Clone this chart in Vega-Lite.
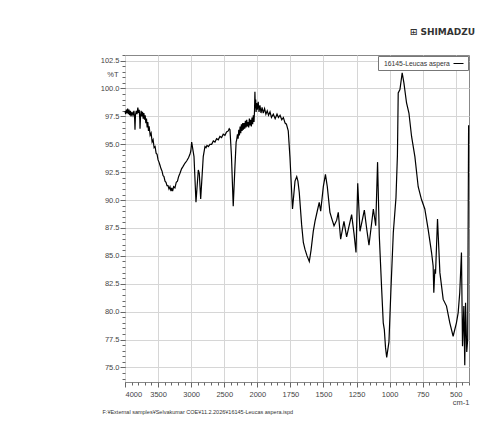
{
  "$schema": "https://vega.github.io/schema/vega-lite/v6.json",
  "autosize": "none",
  "width": 344,
  "height": 327,
  "padding": {"left": 125, "top": 55, "right": 12, "bottom": 41},
  "background": "white",
  "title": {"text": "⊞ SHIMADZU", "anchor": "end", "orient": "top", "offset": 18, "dx": 4, "fontSize": 9, "font": "DejaVu Sans", "fontWeight": "bold", "color": "#333"},
  "config": {
    "view": {"stroke": "#888", "strokeWidth": 1},
    "axis": {"labelFont": "Liberation Sans", "titleFont": "Liberation Sans", "labelColor": "#444", "titleColor": "#444", "domainColor": "#888", "tickColor": "#666", "gridColor": "#d6d6d6", "labelFontSize": 7.5, "titleFontSize": 7.5, "titleFontWeight": "normal"}
  },
  "data": {"values": [
    {"wn": 4000, "t": 98.0}, {"wn": 3990, "t": 97.7}, {"wn": 3980, "t": 98.1}, {"wn": 3970, "t": 97.8}, {"wn": 3960, "t": 98.2},
    {"wn": 3950, "t": 97.7}, {"wn": 3940, "t": 98.1}, {"wn": 3930, "t": 97.6}, {"wn": 3920, "t": 98.0}, {"wn": 3909, "t": 97.5},
    {"wn": 3895, "t": 97.9}, {"wn": 3880, "t": 97.6}, {"wn": 3865, "t": 98.0}, {"wn": 3855, "t": 97.4}, {"wn": 3849, "t": 96.3},
    {"wn": 3842, "t": 97.6}, {"wn": 3830, "t": 98.0}, {"wn": 3818, "t": 97.7}, {"wn": 3806, "t": 98.3}, {"wn": 3795, "t": 97.8},
    {"wn": 3785, "t": 98.1}, {"wn": 3776, "t": 97.2}, {"wn": 3773, "t": 96.4}, {"wn": 3765, "t": 97.5}, {"wn": 3756, "t": 98.0},
    {"wn": 3745, "t": 97.5}, {"wn": 3735, "t": 97.9}, {"wn": 3725, "t": 97.3}, {"wn": 3715, "t": 97.8}, {"wn": 3705, "t": 97.2},
    {"wn": 3695, "t": 97.6}, {"wn": 3685, "t": 96.9}, {"wn": 3675, "t": 97.3}, {"wn": 3665, "t": 96.5}, {"wn": 3655, "t": 97.0},
    {"wn": 3645, "t": 96.2}, {"wn": 3635, "t": 96.6}, {"wn": 3620, "t": 95.8}, {"wn": 3605, "t": 96.0}, {"wn": 3590, "t": 95.2},
    {"wn": 3575, "t": 95.4}, {"wn": 3560, "t": 94.7}, {"wn": 3545, "t": 94.8}, {"wn": 3530, "t": 94.2}, {"wn": 3515, "t": 94.1},
    {"wn": 3500, "t": 93.6}, {"wn": 3486, "t": 93.4}, {"wn": 3470, "t": 93.1}, {"wn": 3455, "t": 92.8}, {"wn": 3440, "t": 92.6},
    {"wn": 3425, "t": 92.2}, {"wn": 3411, "t": 92.1}, {"wn": 3395, "t": 91.7}, {"wn": 3380, "t": 91.6}, {"wn": 3365, "t": 91.3},
    {"wn": 3350, "t": 91.3}, {"wn": 3335, "t": 91.0}, {"wn": 3320, "t": 91.2}, {"wn": 3305, "t": 90.8}, {"wn": 3294, "t": 91.1},
    {"wn": 3280, "t": 90.8}, {"wn": 3265, "t": 91.2}, {"wn": 3245, "t": 91.1}, {"wn": 3225, "t": 91.6}, {"wn": 3207, "t": 91.7},
    {"wn": 3190, "t": 92.1}, {"wn": 3169, "t": 92.4}, {"wn": 3145, "t": 92.8}, {"wn": 3124, "t": 93.0}, {"wn": 3095, "t": 93.3},
    {"wn": 3068, "t": 93.5}, {"wn": 3040, "t": 93.8}, {"wn": 3018, "t": 94.1}, {"wn": 3005, "t": 94.4},
    {"wn": 2992, "t": 95.2}, {"wn": 2957, "t": 93.9}, {"wn": 2927, "t": 89.8}, {"wn": 2892, "t": 92.7}, {"wn": 2877, "t": 92.4},
    {"wn": 2856, "t": 90.1}, {"wn": 2817, "t": 93.9}, {"wn": 2791, "t": 94.8}, {"wn": 2775, "t": 94.7}, {"wn": 2761, "t": 94.9},
    {"wn": 2740, "t": 94.8}, {"wn": 2716, "t": 95.0}, {"wn": 2690, "t": 95.0}, {"wn": 2665, "t": 95.3}, {"wn": 2640, "t": 95.2},
    {"wn": 2615, "t": 95.5}, {"wn": 2590, "t": 95.4}, {"wn": 2565, "t": 95.7}, {"wn": 2540, "t": 95.6}, {"wn": 2515, "t": 95.9},
    {"wn": 2489, "t": 95.8}, {"wn": 2465, "t": 96.1}, {"wn": 2439, "t": 96.2}, {"wn": 2425, "t": 96.4}, {"wn": 2413, "t": 96.3},
    {"wn": 2391, "t": 94.0}, {"wn": 2364, "t": 89.45}, {"wn": 2338, "t": 93.0}, {"wn": 2320, "t": 95.2}, {"wn": 2312, "t": 95.4},
    {"wn": 2300, "t": 95.9}, {"wn": 2290, "t": 95.5}, {"wn": 2280, "t": 96.3}, {"wn": 2270, "t": 95.8}, {"wn": 2260, "t": 96.6},
    {"wn": 2250, "t": 96.0}, {"wn": 2240, "t": 96.8}, {"wn": 2230, "t": 96.2}, {"wn": 2220, "t": 96.9}, {"wn": 2210, "t": 96.3},
    {"wn": 2200, "t": 96.9}, {"wn": 2190, "t": 96.4}, {"wn": 2180, "t": 97.1}, {"wn": 2170, "t": 96.5}, {"wn": 2160, "t": 97.2},
    {"wn": 2150, "t": 96.6}, {"wn": 2140, "t": 97.0}, {"wn": 2130, "t": 96.5}, {"wn": 2120, "t": 97.3}, {"wn": 2110, "t": 96.7},
    {"wn": 2100, "t": 97.2}, {"wn": 2090, "t": 96.6}, {"wn": 2080, "t": 97.4}, {"wn": 2070, "t": 96.8}, {"wn": 2060, "t": 97.6},
    {"wn": 2050, "t": 97.0}, {"wn": 2042, "t": 98.0}, {"wn": 2036, "t": 99.7}, {"wn": 2030, "t": 98.2}, {"wn": 2024, "t": 99.0},
    {"wn": 2018, "t": 97.9}, {"wn": 2010, "t": 98.7}, {"wn": 2000, "t": 98.1}, {"wn": 1993, "t": 98.8}, {"wn": 1987, "t": 97.9},
    {"wn": 1980, "t": 98.5}, {"wn": 1972, "t": 97.8}, {"wn": 1964, "t": 98.3}, {"wn": 1955, "t": 97.8}, {"wn": 1945, "t": 98.2},
    {"wn": 1935, "t": 97.7}, {"wn": 1925, "t": 98.0}, {"wn": 1915, "t": 97.6}, {"wn": 1904, "t": 97.9}, {"wn": 1893, "t": 97.4},
    {"wn": 1879, "t": 97.7}, {"wn": 1865, "t": 97.3}, {"wn": 1851, "t": 97.7}, {"wn": 1840, "t": 97.4}, {"wn": 1828, "t": 97.6},
    {"wn": 1815, "t": 97.2}, {"wn": 1803, "t": 97.4},
    {"wn": 1790, "t": 96.9}, {"wn": 1780, "t": 96.8}, {"wn": 1766, "t": 96.2}, {"wn": 1753, "t": 93.8}, {"wn": 1734, "t": 89.2}, {"wn": 1715, "t": 91.7},
    {"wn": 1702, "t": 92.1}, {"wn": 1693, "t": 91.7}, {"wn": 1683, "t": 90.7}, {"wn": 1665, "t": 87.8}, {"wn": 1652, "t": 86.2},
    {"wn": 1640, "t": 85.6}, {"wn": 1624, "t": 85.0}, {"wn": 1607, "t": 84.5}, {"wn": 1594, "t": 85.5}, {"wn": 1577, "t": 87.2},
    {"wn": 1564, "t": 88.1}, {"wn": 1547, "t": 89.0}, {"wn": 1532, "t": 89.8}, {"wn": 1521, "t": 89.0}, {"wn": 1501, "t": 91.2},
    {"wn": 1485, "t": 92.3}, {"wn": 1471, "t": 91.2}, {"wn": 1451, "t": 88.9}, {"wn": 1436, "t": 88.3}, {"wn": 1420, "t": 87.7},
    {"wn": 1400, "t": 88.2}, {"wn": 1388, "t": 88.9}, {"wn": 1370, "t": 86.5}, {"wn": 1345, "t": 88.1}, {"wn": 1325, "t": 86.7},
    {"wn": 1287, "t": 88.7}, {"wn": 1269, "t": 87.0}, {"wn": 1254, "t": 85.3}, {"wn": 1241, "t": 91.5}, {"wn": 1224, "t": 87.2},
    {"wn": 1191, "t": 89.1}, {"wn": 1174, "t": 87.5}, {"wn": 1156, "t": 85.95}, {"wn": 1123, "t": 89.2}, {"wn": 1105, "t": 87.7},
    {"wn": 1091, "t": 93.4}, {"wn": 1078, "t": 86.8}, {"wn": 1060, "t": 82.0}, {"wn": 1048, "t": 79.0}, {"wn": 1040, "t": 78.4},
    {"wn": 1031, "t": 76.8}, {"wn": 1022, "t": 75.9}, {"wn": 1005, "t": 77.3}, {"wn": 990, "t": 82.0}, {"wn": 972, "t": 87.1},
    {"wn": 952, "t": 90.2}, {"wn": 941, "t": 94.0}, {"wn": 935, "t": 99.6}, {"wn": 922, "t": 99.9}, {"wn": 905, "t": 101.4},
    {"wn": 892, "t": 100.5}, {"wn": 872, "t": 98.7}, {"wn": 854, "t": 97.8}, {"wn": 834, "t": 95.7}, {"wn": 809, "t": 93.9},
    {"wn": 784, "t": 91.2}, {"wn": 759, "t": 90.05}, {"wn": 734, "t": 89.2}, {"wn": 709, "t": 87.4}, {"wn": 683, "t": 85.3},
    {"wn": 671, "t": 84.1}, {"wn": 666, "t": 81.7}, {"wn": 658, "t": 83.8}, {"wn": 653, "t": 83.4}, {"wn": 638, "t": 88.3},
    {"wn": 620, "t": 83.5}, {"wn": 595, "t": 81.1}, {"wn": 570, "t": 80.5}, {"wn": 545, "t": 79.0}, {"wn": 520, "t": 77.8},
    {"wn": 495, "t": 79.0}, {"wn": 482, "t": 79.9}, {"wn": 470, "t": 81.7}, {"wn": 457, "t": 85.3}, {"wn": 449, "t": 76.9},
    {"wn": 439, "t": 80.5}, {"wn": 432, "t": 75.2}, {"wn": 426, "t": 80.8}, {"wn": 417, "t": 76.4}, {"wn": 410, "t": 77.5},
    {"wn": 403, "t": 96.7}
  ]},
  "layer": [
    {
      "mark": {"type": "line", "strokeWidth": 1.2},
      "encoding": {
        "x": {"field": "wn", "type": "quantitative",
          "scale": {"domain": [4000, 2000, 400], "range": [0, 132.3, 344], "nice": false, "zero": false},
          "axis": {"orient": "bottom", "values": [4000, 3500, 3000, 2500, 2000, 1750, 1500, 1250, 1000, 750, 500], "format": "d", "tickSize": 5, "labelPadding": 3, "grid": true, "domain": false,
            "title": "cm-1", "titleX": 344, "titleY": 16, "titleAlign": "right", "titleBaseline": "top"}},
        "y": {"field": "t", "type": "quantitative",
          "scale": {"domain": [73.7, 103], "nice": false, "zero": false},
          "axis": {"orient": "left", "values": [75, 77.5, 80, 82.5, 85, 87.5, 90, 92.5, 95, 97.5, 100, 102.5], "format": ".1f", "tickSize": 5, "labelPadding": 1, "grid": true, "domain": false,
            "title": "%T", "titleAngle": 0, "titleX": -7, "titleY": 19, "titleAlign": "right", "titleBaseline": "middle"}},
        "color": {"datum": "16145-Leucas aspera", "type": "nominal", "scale": {"range": ["black"]},
          "legend": {"title": null, "orient": "top-right", "offset": 1, "padding": 2, "strokeColor": "#777", "fillColor": "white", "symbolType": "stroke", "symbolSize": 100, "symbolStrokeWidth": 1, "symbolStrokeColor": "#777", "labelFontSize": 6.8, "labelFont": "Liberation Sans", "labelColor": "#333", "labelAlign": "left", "labelOffset": -80, "symbolOffset": 73}}
      }
    },
    {
      "mark": {"type": "line", "opacity": 0},
      "encoding": {
        "x": {"field": "wn", "type": "quantitative",
          "axis": {"orient": "bottom", "values": [4000, 3900, 3800, 3700, 3600, 3500, 3400, 3300, 3200, 3100, 3000, 2900, 2800, 2700, 2600, 2500, 2400, 2300, 2200, 2100, 2000, 1950, 1900, 1850, 1800, 1750, 1700, 1650, 1600, 1550, 1500, 1450, 1400, 1350, 1300, 1250, 1200, 1150, 1100, 1050, 1000, 950, 900, 850, 800, 750, 700, 650, 600, 550, 500, 450, 400],
            "labels": false, "tickSize": 3, "grid": false, "domain": false,
            "title": "F:¥External samples¥Selvakumar COE¥11.2.2026¥16145-Leucas aspera.ispd", "titleX": -23, "titleY": 27, "titleAlign": "left", "titleBaseline": "top", "titleFontSize": 5.5, "titleColor": "#333"}},
        "y": {"field": "t", "type": "quantitative",
          "axis": {"orient": "left", "values": [74, 74.5, 75, 75.5, 76, 76.5, 77, 77.5, 78, 78.5, 79, 79.5, 80, 80.5, 81, 81.5, 82, 82.5, 83, 83.5, 84, 84.5, 85, 85.5, 86, 86.5, 87, 87.5, 88, 88.5, 89, 89.5, 90, 90.5, 91, 91.5, 92, 92.5, 93, 93.5, 94, 94.5, 95, 95.5, 96, 96.5, 97, 97.5, 98, 98.5, 99, 99.5, 100, 100.5, 101, 101.5, 102, 102.5, 103],
            "labels": false, "tickSize": 3, "grid": false, "domain": false, "title": null}}
      }
    }
  ],
  "resolve": {"axis": {"x": "independent", "y": "independent"}}
}
